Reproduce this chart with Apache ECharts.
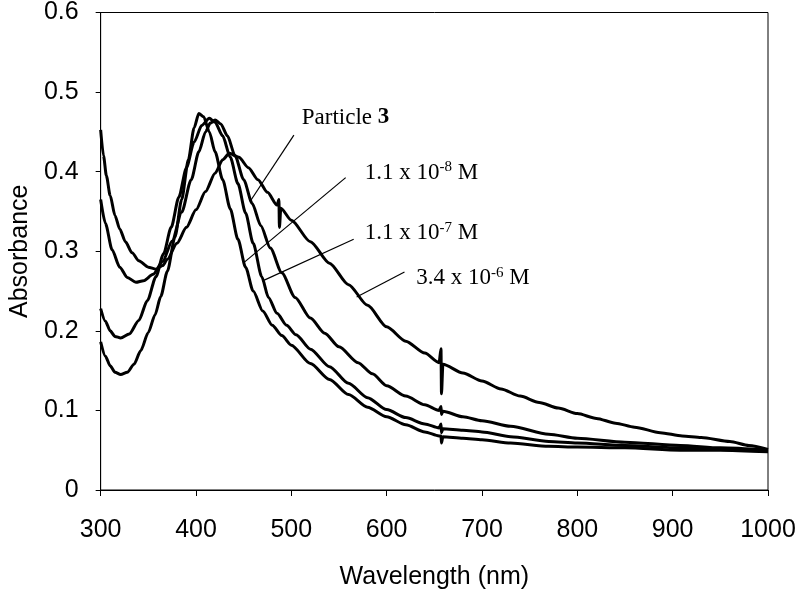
<!DOCTYPE html>
<html><head><meta charset="utf-8">
<script src="https://cdn.jsdelivr.net/npm/echarts@6/dist/echarts.min.js"></script>
<style>html,body{margin:0;padding:0;background:#fff}#c{width:800px;height:595px}</style>
</head><body><div id="c"></div>
<script>
// ---- data (wavelength nm, absorbance) ----
const wlA = [300,305,310,315,321,328,335,342,350,357,363,370,378,385,392,398,403,408,414,420,428,436,444,452,460,470,480,490,500,520,540,560,580,600,620,640,655,657,657.5,659,680,700,730,770,800,850,908,950,1000];
const abA = [0.186,0.168,0.156,0.148,0.145,0.148,0.158,0.175,0.198,0.22,0.243,0.275,0.318,0.365,0.415,0.455,0.473,0.469,0.45,0.425,0.39,0.353,0.315,0.28,0.25,0.225,0.207,0.194,0.182,0.159,0.139,0.12,0.104,0.092,0.082,0.073,0.068,0.068,0.059,0.067,0.065,0.063,0.059,0.055,0.054,0.053,0.05,0.05,0.048];

const wlB = [300,305,310,315,321,330,340,349,358,366,374,382,390,398,406,414,420,428,436,444,452,460,469,476,485,495,505,520,540,560,580,600,620,640,655,657,657.5,659,680,700,730,770,800,850,908,950,1000];
const abB = [0.228,0.212,0.2,0.193,0.191,0.196,0.213,0.238,0.268,0.297,0.33,0.368,0.405,0.437,0.458,0.467,0.462,0.445,0.418,0.385,0.348,0.31,0.268,0.242,0.222,0.207,0.195,0.177,0.155,0.134,0.116,0.101,0.091,0.083,0.078,0.083,0.072,0.077,0.075,0.073,0.067,0.061,0.059,0.056,0.053,0.051,0.049];

const wlC = [300,305,312,320,328,337,345,355,365,375,385,395,403,410,415,420,426,433,441,450,459,468,478,490,504,520,535,550,570,585,600,620,640,655,657,657.5,659,680,700,730,770,800,850,908,950,1000];
const abC = [0.365,0.335,0.302,0.28,0.267,0.261,0.263,0.271,0.287,0.313,0.349,0.39,0.425,0.45,0.461,0.465,0.46,0.445,0.42,0.39,0.36,0.332,0.304,0.273,0.242,0.216,0.197,0.18,0.16,0.146,0.131,0.118,0.107,0.1,0.105,0.095,0.099,0.092,0.087,0.08,0.07,0.065,0.06,0.056,0.053,0.05];

const wlD = [300,303,306,310,315,320,326,333,340,350,358,365,370,380,390,400,410,420,428,435,445,455,465,475,485,487,487.5,489,500,520,540,560,580,600,620,640,655,657,657.5,659,680,700,720,740,760,780,800,820,840,860,887,910,930,960,980,1000];
const abD = [0.4525,0.42,0.395,0.37,0.345,0.328,0.312,0.298,0.288,0.28,0.2775,0.282,0.29,0.31,0.33,0.352,0.375,0.398,0.415,0.423,0.418,0.405,0.39,0.374,0.358,0.365,0.33,0.354,0.339,0.312,0.285,0.258,0.232,0.205,0.187,0.172,0.16,0.1775,0.121,0.158,0.147,0.137,0.127,0.118,0.11,0.103,0.096,0.09,0.084,0.079,0.072,0.068,0.066,0.061,0.056,0.051];

const seriesNames = ['1.1 x 10-8 M','1.1 x 10-7 M','Particle 3','3.4 x 10-6 M'];

// annotation labels: rich text pieces and their anchor (wavelength, absorbance)
const labelTexts = ['{m|Particle }{b|3}','{m|1.1 x 10}{s|-8}{m| M}','{m|1.1 x 10}{s|-7}{m| M}','{m|3.4 x 10}{s|-6}{m| M}'];
const labelWl  = [511, 577, 577, 631];
const labelAbs = [0.468, 0.399, 0.3225, 0.266];
// arrows: start (wl, abs) -> tip (wl, abs)
const arrowFromWl = [502.7, 557, 565.4, 618.7];
const arrowFromAb = [0.446, 0.3925, 0.315, 0.274];
const arrowToWl   = [456.7, 450.5, 469.3, 568.5];
const arrowToAb   = [0.3625, 0.286, 0.2625, 0.2425];

const xMin = 300, xMax = 1000, xStep = 100;
const yMin = 0, yMax = 0.6, yStep = 0.1;

function zip(xs, ys){ return xs.map((x,i)=>[x, ys[i]]); }
const sets = [[wlA,abA],[wlB,abB],[wlC,abC],[wlD,abD]];

const chart = echarts.init(document.getElementById('c'), null, {renderer:'canvas'});
const axisFont = 'Liberation Sans, Arial, sans-serif';
const series = sets.map((s, i) => ({
  name: seriesNames[i], type: 'line', data: zip(s[0], s[1]),
  showSymbol: false, smooth: 0.25, smoothMonotone: 'x',
  lineStyle: {color: '#000', width: 3}, silent: true, animation: false,
  z: 3
}));
series.push({
  type: 'line', data: [], silent: true, animation: false,
  markLine: {
    silent: true, symbol: ['none','arrow'], symbolSize: [0, 9],
    label: {show: false},
    lineStyle: {color: '#000', width: 1.2, type: 'solid'},
    data: arrowFromWl.map((w,i)=>[{coord:[w, arrowFromAb[i]]},{coord:[arrowToWl[i], arrowToAb[i]]}])
  }
});

chart.setOption({
  animation: false,
  backgroundColor: '#fff',
  grid: {left: 98, right: 32, top: 12, bottom: 103, show: true, borderColor: '#000', borderWidth: 1, backgroundColor: 'transparent'},
  xAxis: {
    type: 'value', min: xMin, max: xMax, interval: xStep,
    name: 'Wavelength (nm)', nameLocation: 'middle', nameGap: 75,
    nameTextStyle: {fontFamily: axisFont, fontSize: 25, color: '#000'},
    axisLine: {show: true, lineStyle: {color: '#000', width: 1}},
    axisTick: {show: true, inside: false, length: 6, lineStyle: {color: '#000'}},
    axisLabel: {fontFamily: axisFont, fontSize: 25, color: '#000', margin: 28, formatter: v => String(v)},
    splitLine: {show: false}
  },
  yAxis: {
    type: 'value', min: yMin, max: yMax, interval: yStep,
    name: 'Absorbance', nameLocation: 'middle', nameGap: 67, nameRotate: 90,
    nameTextStyle: {fontFamily: axisFont, fontSize: 25, color: '#000'},
    axisLine: {show: true, lineStyle: {color: '#000', width: 1}},
    axisTick: {show: true, inside: false, length: 5, lineStyle: {color: '#000'}},
    axisLabel: {fontFamily: axisFont, fontSize: 25, color: '#000', margin: 22},
    splitLine: {show: false}
  },
  series: series
});

const serif = 'Liberation Serif, Times New Roman, serif';
const rich = {
  m: {fontFamily: serif, fontSize: 23, lineHeight: 26, fill: '#000', color: '#000'},
  b: {fontFamily: serif, fontSize: 23, fontWeight: 'bold', lineHeight: 26, fill: '#000', color: '#000'},
  s: {fontFamily: serif, fontSize: 15, lineHeight: 15, verticalAlign: 'top', fill: '#000', color: '#000'}
};
const graphics = labelTexts.map((t, i) => {
  const p = chart.convertToPixel({gridIndex: 0}, [labelWl[i], labelAbs[i]]);
  return {type: 'text', x: p[0], y: p[1], silent: true, z: 10,
    style: {text: t, rich: rich, align: 'left', verticalAlign: 'middle', fill: '#000'}};
});
chart.setOption({graphic: graphics});
</script>
</body></html>
